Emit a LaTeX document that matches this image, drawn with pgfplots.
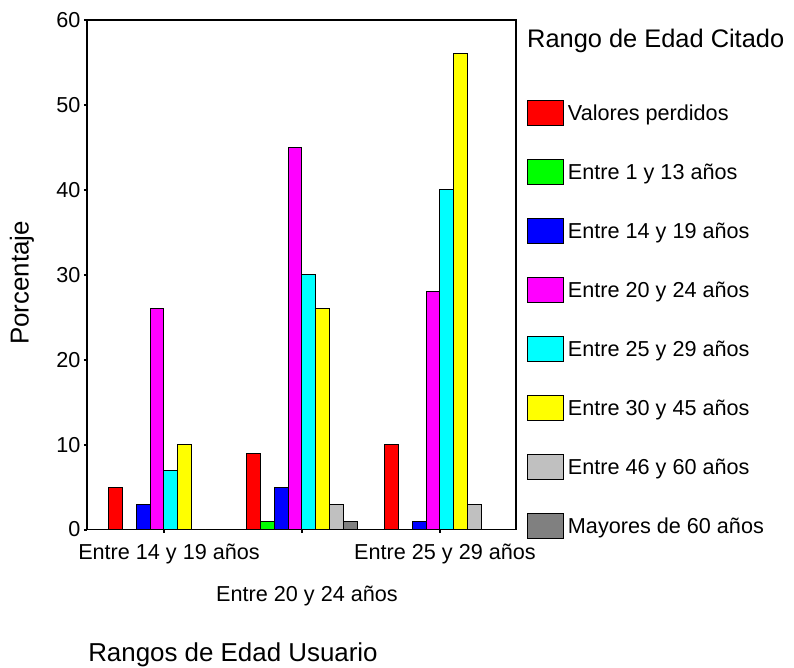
\documentclass[border=0pt]{standalone}
\usepackage{fontspec}
\setmainfont{Liberation Sans}
\usepackage{pgfplots}
\usepackage{pgfplotstable}
\pgfplotsset{compat=1.18}
\pgfplotstableread{
g  vp  a  b  c  d  e  f  h
0  5   0  3  26 7  10 0  0
1  9   1  5  45 30 26 3  1
2  10  0  1  28 40 56 3  0
}\datatab
\definecolor{cred}{RGB}{255,0,0}
\definecolor{cgreen}{RGB}{0,255,0}
\definecolor{cblue}{RGB}{0,0,255}
\definecolor{cmag}{RGB}{255,0,255}
\definecolor{ccyan}{RGB}{0,255,255}
\definecolor{cyel}{RGB}{255,255,0}
\definecolor{clgray}{RGB}{192,192,192}
\definecolor{cdgray}{RGB}{128,128,128}
\pgfplotsset{
  mybar/.style={fill=#1, draw=black, line width=1bp,
    legend image code/.code={\draw[fill=#1,draw=black,line width=1bp] (0bp,-4.7bp) rectangle (36bp,20.3bp);}},
}
\begin{document}
\begin{tikzpicture}
\useasboundingbox (0,0) rectangle (794bp,-668bp);
\begin{axis}[
  at={(87bp,-529.5bp)}, anchor=south west,
  scale only axis, width=429bp, height=509.5bp,
  xmin=-0.558, xmax=2.551, ymin=0, ymax=60,
  ybar=0pt, bar width=0.1,
  axis line style={black, line width=1.5bp},
  ytick={0,10,...,60},
  xtick={0,2}, xticklabels={Entre 14 y 19 años, Entre 25 y 29 años},
  extra x ticks={1}, extra x tick labels={Entre 20 y 24 años},
  extra x tick style={xticklabel style={yshift=-42bp}},
  xticklabel style={yshift=-8bp, xshift=5bp},
  tick pos=left,
  major tick length=3bp,
  tick style={black, line width=2bp},
  tick align=outside,
  /pgf/number format/assume math mode=true,
  tick label style={font=\fontsize{21.7}{26}\selectfont},
  legend style={at={(axis description cs:1.0256,0.843)}, anchor=north west,
    draw=none, fill=none, inner sep=0pt, outer sep=0pt, row sep=33bp, column sep=4bp,
    font=\fontsize{21.7}{26}\selectfont,
    nodes={inner sep=0pt, anchor=base west}},
  legend cell align=left,
  clip=false,
]
\addplot[mybar=cred, bar shift=-0.35] table[x=g,y=vp]{\datatab};
\addlegendentry{Valores perdidos}
\addplot[mybar=cgreen, bar shift=-0.25] table[x=g,y=a]{\datatab};
\addlegendentry{Entre 1 y 13 años}
\addplot[mybar=cblue, bar shift=-0.15] table[x=g,y=b]{\datatab};
\addlegendentry{Entre 14 y 19 años}
\addplot[mybar=cmag, bar shift=-0.05] table[x=g,y=c]{\datatab};
\addlegendentry{Entre 20 y 24 años}
\addplot[mybar=ccyan, bar shift=0.05] table[x=g,y=d]{\datatab};
\addlegendentry{Entre 25 y 29 años}
\addplot[mybar=cyel, bar shift=0.15] table[x=g,y=e]{\datatab};
\addlegendentry{Entre 30 y 45 años}
\addplot[mybar=clgray, bar shift=0.25] table[x=g,y=f]{\datatab};
\addlegendentry{Entre 46 y 60 años}
\addplot[mybar=cdgray, bar shift=0.35] table[x=g,y=h]{\datatab};
\addlegendentry{Mayores de 60 años}
\node[anchor=base west, inner sep=0pt, font=\fontsize{25.5}{30}\selectfont] at (axis description cs:1.0256,0.947) {Rango de Edad Citado};
\node[rotate=90, anchor=base, inner sep=0pt, font=\fontsize{26}{30}\selectfont] at (axis description cs:-0.136,0.484) {Porcentaje};
\node[anchor=base, inner sep=0pt, font=\fontsize{26}{30}\selectfont] at (axis description cs:0.3403,-0.259) {Rangos de Edad Usuario};
\end{axis}
\end{tikzpicture}
\end{document}
